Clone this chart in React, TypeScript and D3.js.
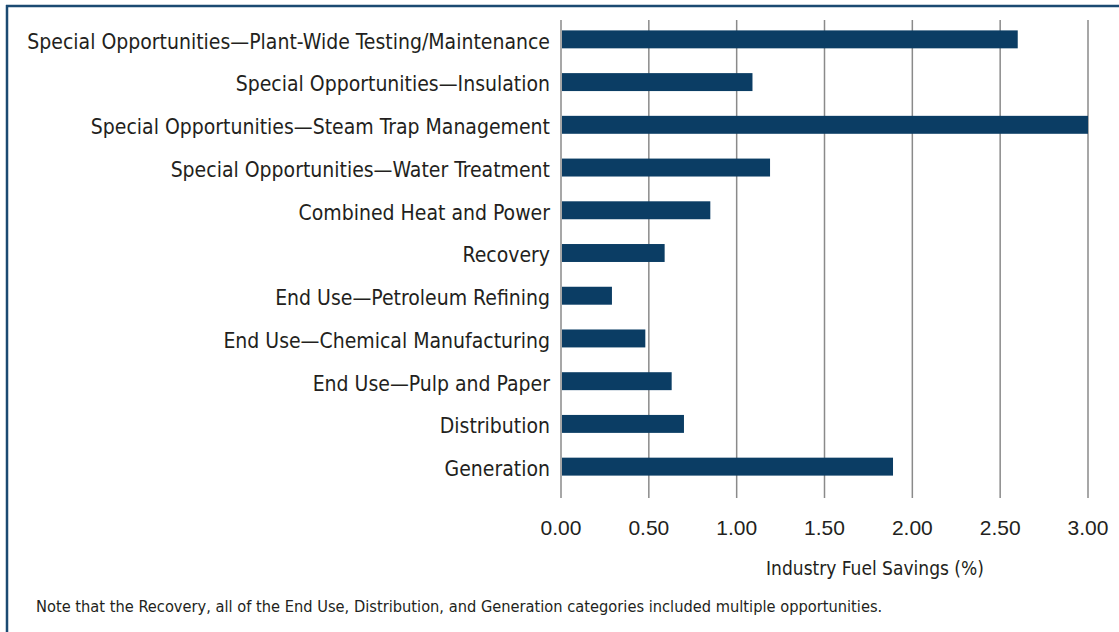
import React from "react";
import * as d3 from "d3";

const categories = [
  "Special Opportunities—Plant-Wide Testing/Maintenance",
  "Special Opportunities—Insulation",
  "Special Opportunities—Steam Trap Management",
  "Special Opportunities—Water Treatment",
  "Combined Heat and Power",
  "Recovery",
  "End Use—Petroleum Refining",
  "End Use—Chemical Manufacturing",
  "End Use—Pulp and Paper",
  "Distribution",
  "Generation",
];
const values = [2.6, 1.09, 3.0, 1.19, 0.85, 0.59, 0.29, 0.48, 0.63, 0.7, 1.89];
const ticks = [0, 0.5, 1.0, 1.5, 2.0, 2.5, 3.0];
const axisTitle = "Industry Fuel Savings (%)";
const note =
  "Note that the Recovery, all of the End Use, Distribution, and Generation categories included multiple opportunities.";

const W = 1119;
const H = 632;
const NARROW = '"Liberation Sans Narrow", "DejaVu Sans Condensed", sans-serif';

export default function App() {
  const x = d3.scaleLinear().domain([0, 3]).range([561, 1088]);
  const y = d3
    .scaleBand<string>()
    .domain(categories)
    .range([18, 488])
    .paddingInner(0.58)
    .paddingOuter(0.29);
  const bh = y.bandwidth();
  return (
    <svg
      width={W}
      height={H}
      style={{ position: "absolute", left: 0, top: 0, background: "#fff" }}
    >
      <rect x={0} y={0} width={W} height={H} fill="#fff" />
      <line x1={6} x2={W} y1={6} y2={6} stroke="#1b4a72" strokeWidth={2.5} />
      <line x1={7} x2={7} y1={5} y2={H} stroke="#1b4a72" strokeWidth={2.5} />
      {ticks.map((t) => (
        <line
          key={"g" + t}
          x1={x(t)}
          x2={x(t)}
          y1={20}
          y2={498}
          stroke="#8a8a8a"
          strokeWidth={1.5}
        />
      ))}
      {categories.map((c, i) => (
        <g key={c}>
          <rect
            x={x(0) + 1}
            y={y(c)}
            width={x(values[i]) - x(0) - 1}
            height={bh}
            fill="#0b3d64"
          />
          <text
            x={550}
            y={(y(c) as number) + bh / 2 + 2}
            dy="0.35em"
            textAnchor="end"
            fontFamily={NARROW}
            fontSize={21}
            fill="#231f20"
          >
            {c}
          </text>
        </g>
      ))}
      {ticks.map((t) => (
        <text
          key={"t" + t}
          x={x(t)}
          y={535}
          textAnchor="middle"
          fontFamily='"Liberation Sans", Arial, sans-serif'
          fontSize={21}
          fill="#231f20"
        >
          {d3.format(".2f")(t)}
        </text>
      ))}
      <text
        x={875}
        y={575}
        textAnchor="middle"
        fontFamily={NARROW}
        fontSize={19}
        fill="#231f20"
      >
        {axisTitle}
      </text>
      <text
        x={36}
        y={612}
        fontFamily={NARROW}
        fontSize={16.3}
        fill="#231f20"
      >
        {note}
      </text>
    </svg>
  );
}
